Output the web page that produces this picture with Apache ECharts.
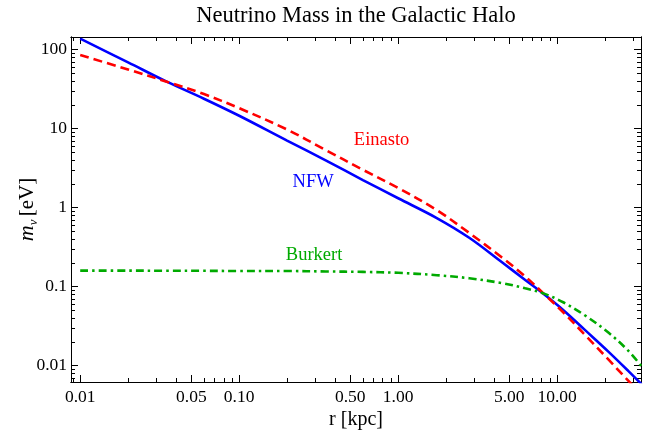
<!DOCTYPE html>
<html>
<head>
<meta charset="utf-8">
<script src="https://cdn.jsdelivr.net/npm/echarts@6/dist/echarts.min.js"></script>
<style>
html, body { margin: 0; padding: 0; background: #fff; }
#chart { width: 655px; height: 440px; }
</style>
</head>
<body>
<div id="chart"></div>
<script>
// r in kpc, m in eV
const radius = [0.01, 0.02, 0.035, 0.06, 0.1, 0.2, 0.35, 0.6, 1, 1.75, 2.8, 4.5, 6.3, 8.2, 11, 15, 21, 28, 34]
const nfw = [138, 69.2, 39.4, 24.0, 14.6, 7.08, 3.98, 2.24, 1.318, 0.741, 0.417, 0.204, 0.1216, 0.0813, 0.0501, 0.0282, 0.0151, 0.00861, 0.00582]
const einasto = [85.7, 56.2, 39.4, 27.5, 18.2, 9.77, 5.37, 3.02, 1.78, 0.933, 0.479, 0.234, 0.135, 0.0824, 0.0468, 0.0245, 0.0120, 0.00646, 0.00427]
const burkert = [0.160, 0.160, 0.159, 0.159, 0.158, 0.158, 0.156, 0.154, 0.150, 0.140, 0.128, 0.111, 0.0955, 0.0824, 0.0631, 0.0432, 0.0263, 0.0155, 0.0098]

const xTicks = [0.01, 0.05, 0.1, 0.5, 1, 5, 10]
const xTickLabels = ['0.01', '0.05', '0.10', '0.50', '1.00', '5.00', '10.00']
const yTicks = [0.01, 0.1, 1, 10, 100]
const yTickLabels = ['0.01', '0.1', '1', '10', '100']

const curveNames = ['NFW', 'Einasto', 'Burkert']
const curveColors = ['#0000ff', '#ff0000', '#00aa00']
const labelR = [0.292, 0.787, 0.296]
const labelM = [2.08, 7.19, 0.248]

const xRange = [0.00875, 33.7]
const yRange = [0.00622, 145]

const lg = Math.log10
const font = 'Liberation Serif'

// minor ticks at 2..9 of each decade
function minorTicks(range) {
  const out = []
  for (let e = -3; e <= 2; e++) {
    for (let k = 2; k <= 9; k++) {
      const v = k * Math.pow(10, e)
      if (v > range[0] && v < range[1]) out.push(lg(v))
    }
  }
  return out
}

function tickLabel(ticks, labels) {
  return function(val) {
    for (let i = 0; i < ticks.length; i++) {
      if (Math.abs(lg(ticks[i]) - val) < 1e-6) return labels[i]
    }
    return ''
  }
}

function frameAxis(dim, pos, ticks, len, withLabel) {
  const range = dim === 'x' ? xRange : yRange
  const axis = {
    type: 'value',
    position: pos,
    min: lg(range[0]),
    max: lg(range[1]),
    nameMoveOverlap: false,
    axisLine: { show: true, onZero: false, lineStyle: { color: '#000', width: 1 } },
    splitLine: { show: false },
    axisTick: { show: true, inside: true, length: len, customValues: ticks, lineStyle: { color: '#000', width: 1 } },
    axisLabel: { show: false }
  }
  if (withLabel) {
    axis.axisLabel = {
      show: true,
      customValues: ticks,
      margin: dim === 'x' ? 6 : 4,
      color: '#000',
      fontFamily: font,
      fontSize: 17.5,
      formatter: dim === 'x' ? tickLabel(xTicks, xTickLabels) : tickLabel(yTicks, yTickLabels)
    }
  }
  return axis
}

const xMajor = xTicks.map(lg)
const yMajor = yTicks.map(lg)
const xMinor = minorTicks(xRange)
const yMinor = minorTicks(yRange)

const xAxes = [
  frameAxis('x', 'bottom', xMajor, 7, true),
  frameAxis('x', 'bottom', xMinor, 4, false),
  frameAxis('x', 'top', xMajor, 7, false),
  frameAxis('x', 'top', xMinor, 4, false)
]
xAxes[0].name = 'r [kpc]'
xAxes[0].nameLocation = 'middle'
xAxes[0].nameGap = 28
xAxes[0].nameTextStyle = { color: '#000', fontFamily: font, fontSize: 20 }
xAxes[2].name = 'Neutrino Mass in the Galactic Halo'
xAxes[2].nameLocation = 'middle'
xAxes[2].nameGap = 9
xAxes[2].nameTextStyle = { color: '#000', fontFamily: font, fontSize: 22.5 }

const yAxes = [
  frameAxis('y', 'left', yMajor, 7, true),
  frameAxis('y', 'left', yMinor, 4, false),
  frameAxis('y', 'right', yMajor, 7, false),
  frameAxis('y', 'right', yMinor, 4, false)
]
yAxes[0].name = '{m|m}{s|ν} {t|[eV]}'
yAxes[0].nameLocation = 'middle'
yAxes[0].nameRotate = 90
yAxes[0].nameGap = 31
yAxes[0].nameTextStyle = {
  color: '#000',
  rich: {
    m: { fontFamily: font, fontSize: 22, fontStyle: 'italic', lineHeight: 26, color: '#000' },
    s: { fontFamily: font, fontSize: 13, fontStyle: 'italic', lineHeight: 15, verticalAlign: 'bottom', color: '#000' },
    t: { fontFamily: font, fontSize: 21, lineHeight: 26, color: '#000' }
  }
}

const seriesData = [nfw, einasto, burkert]
const lineTypes = ['solid', [9, 5], [8, 4, 2.5, 4]]

const chart = echarts.init(document.getElementById('chart'))
chart.setOption({
  animation: false,
  grid: { left: 71, right: 14, top: 37, bottom: 58 },
  xAxis: xAxes,
  yAxis: yAxes,
  series: seriesData.map(function(vals, i) {
    return {
      name: curveNames[i],
      type: 'line',
      xAxisIndex: 0,
      yAxisIndex: 0,
      smooth: 0.35,
      showSymbol: false,
      clip: true,
      data: radius.map(function(r, j) { return [lg(r), lg(vals[j])] }),
      lineStyle: { color: curveColors[i], width: 2.6, type: lineTypes[i] },
      markPoint: {
        silent: true,
        symbolSize: 0,
        data: [{
          coord: [lg(labelR[i]), lg(labelM[i])],
          label: {
            show: true,
            position: 'inside',
            formatter: curveNames[i],
            color: curveColors[i],
            fontFamily: font,
            fontSize: 18.5
          }
        }]
      }
    }
  })
})
window.addEventListener('resize', function() { chart.resize() })
</script>
</body>
</html>
